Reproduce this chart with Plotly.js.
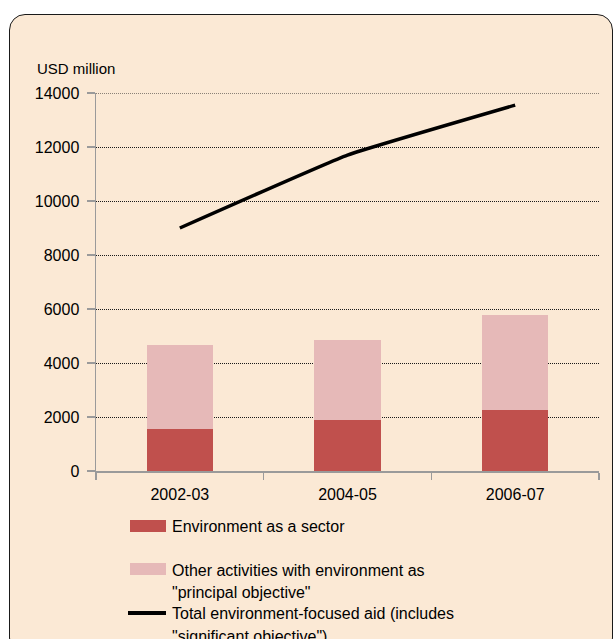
<!DOCTYPE html>
<html>
<head>
<meta charset="utf-8">
<script src="https://cdn.plot.ly/plotly-3.0.1.min.js"></script>
<style>
  html, body { margin: 0; padding: 0; background: #ffffff; }
  #wrap { position: relative; width: 614px; height: 639px; overflow: hidden; }
  #panel { position: absolute; left: 9px; top: 14px; width: 604px; height: 640px;
           background: #FBE9D5; border: 1.5px solid #1a1a1a; border-radius: 16px; box-sizing: border-box; }
  #chart { position: absolute; left: 0; top: 0; width: 614px; height: 639px; }
</style>
</head>
<body>
<div id="wrap">
  <div id="panel"></div>
  <div id="chart"></div>
</div>
<script>
// ---- data ----
const categories = ["2002-03", "2004-05", "2006-07"];
const sectorValues = [1550, 1880, 2250];          // Environment as a sector
const otherValues = [3110, 2990, 3520];           // Other activities with environment as "principal objective"
const totalValues = [9000, 11700, 13550];         // Total environment-focused aid
const yTicks = [0, 2000, 4000, 6000, 8000, 10000, 12000, 14000];
const legendLabels = [
  ["Environment as a sector"],
  ["Other activities with environment as", "\"principal objective\""],
  ["Total environment-focused aid (includes", "\"significant objective\")"]
];
const yLabel = "USD million";

// ---- layout geometry (pixels) ----
const W = 614, H = 639, ML = 96, MR = 15, MT = 93, MB = 168;
const PW = W - ML - MR, PH = H - MT - MB;
const px = x => (x - ML) / PW;
const py = y => (MT + PH - y) / PH;

const FONT = "Liberation Sans, Arial, sans-serif";
const DARK = "#C0504D", PINK = "#E6B9B8";
const GRID = "#1a1a1a", GRIDDASH = "1px,1px";

const traces = [
  { type: "bar", x: categories, y: sectorValues, name: legendLabels[0].join(" "),
    marker: { color: DARK, line: { width: 0 } }, width: 0.395, hoverinfo: "y" },
  { type: "bar", x: categories, y: otherValues, name: legendLabels[1].join(" "),
    marker: { color: PINK, line: { width: 0 } }, width: 0.395, hoverinfo: "y" },
  { type: "scatter", mode: "lines", x: categories, y: totalValues, name: legendLabels[2].join(" "),
    line: { color: "#000000", width: 3.5, shape: "spline", smoothing: 0.3 }, hoverinfo: "y" }
];

const annotations = [
  { text: yLabel, xref: "paper", yref: "paper", x: px(35), y: py(68), xanchor: "left", yanchor: "middle",
    showarrow: false, font: { family: FONT, size: 15, color: "#000" } }
];
// top gridline (Plotly drops the one that lies on the plot edge)
const shapes = [
  { type: "line", xref: "paper", yref: "y", x0: 0, x1: 1, y0: yTicks[yTicks.length - 1], y1: yTicks[yTicks.length - 1],
    line: { color: GRID, width: 1, dash: GRIDDASH }, layer: "below" }
];
// legend (drawn manually)
const legX0 = 130, legX1 = 166, legTextX = 170;
const legRows = [
  { kind: "rect", color: DARK, symY: 526, lines: legendLabels[0], lineY: [526] },
  { kind: "rect", color: PINK, symY: 569, lines: legendLabels[1], lineY: [570, 592] },
  { kind: "line", color: "#000", symY: 613, lines: legendLabels[2], lineY: [613, 636] }
];
legRows.forEach(r => {
  if (r.kind === "rect") {
    shapes.push({ type: "rect", xref: "paper", yref: "paper", x0: px(legX0), x1: px(legX1),
      y0: py(r.symY + 6), y1: py(r.symY - 6), fillcolor: r.color, line: { width: 0 } });
  } else {
    shapes.push({ type: "line", xref: "paper", yref: "paper", x0: px(legX0 - 2), x1: px(legX1),
      y0: py(r.symY), y1: py(r.symY), line: { color: r.color, width: 4 } });
  }
  r.lines.forEach((t, i) => {
    annotations.push({ text: t, xref: "paper", yref: "paper", x: px(legTextX), y: py(r.lineY[i]),
      xanchor: "left", yanchor: "middle", showarrow: false,
      font: { family: FONT, size: 16, color: "#000" } });
  });
});

const layout = {
  width: W, height: H,
  margin: { l: ML, r: MR, t: MT, b: MB, pad: 0 },
  paper_bgcolor: "rgba(0,0,0,0)", plot_bgcolor: "rgba(0,0,0,0)",
  barmode: "stack", bargap: 0.6,
  showlegend: false,
  font: { family: FONT, size: 16, color: "#000" },
  xaxis: {
    type: "category", range: [-0.5, 2.5], tickson: "boundaries",
    showline: true, linecolor: "#9a9a9a", linewidth: 2,
    ticks: "outside", ticklen: 7, tickcolor: "#9a9a9a", tickwidth: 1.5,
    showgrid: false, zeroline: false, ticklabelstandoff: 8,
    tickfont: { family: FONT, size: 16, color: "#000" }
  },
  yaxis: {
    range: [0, 14000], tickvals: yTicks, ticktext: yTicks.map(String),
    showline: true, linecolor: "#9a9a9a", linewidth: 1.5,
    ticks: "outside", ticklen: 8, tickcolor: "#9a9a9a", tickwidth: 1.5,
    showgrid: true, gridcolor: GRID, gridwidth: 1, griddash: GRIDDASH,
    zeroline: false, ticklabelstandoff: 4,
    tickfont: { family: FONT, size: 16, color: "#000" }
  },
  annotations: annotations,
  shapes: shapes
};

Plotly.newPlot("chart", traces, layout, { displayModeBar: false, staticPlot: true });
</script>
</body>
</html>
